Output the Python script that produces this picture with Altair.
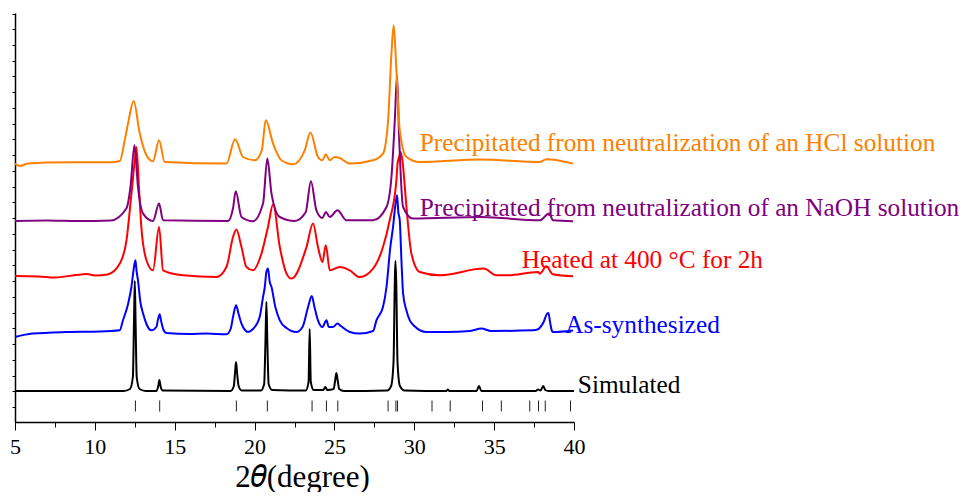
import altair as alt
import pandas as pd

# ---- data (x in degrees 2theta, y in arbitrary intensity units) ----
sim_x = [5, 11.8, 12.2, 12.38, 12.45, 12.5, 12.55, 12.62, 12.8, 13.2, 13.85, 13.97, 14.04, 14.11, 14.25,
         18.5, 18.7, 18.78, 18.84, 18.9, 19.0, 19.2, 20.4, 20.6, 20.68, 20.74, 20.8, 20.88, 21.1,
         23.2, 23.38, 23.45, 23.52, 23.7, 24.3, 24.43, 24.55, 24.95, 25.05, 25.12, 25.2, 25.3, 25.6,
         28.3, 28.55, 28.7, 28.78, 28.82, 28.87, 28.95, 29.1, 29.4, 32.0, 32.1, 32.2, 33.9, 34.05, 34.2,
         37.6, 37.75, 37.9, 38.0, 38.08, 38.2, 38.4, 40]
sim_y = [31, 31, 33, 45, 100, 141, 100, 45, 33, 31, 31, 36, 42, 36, 31.5,
         31, 36, 50, 60, 50, 36, 31.5, 31.5, 38, 80, 120, 80, 38, 32,
         31.5, 40, 93, 40, 32, 32, 35, 32, 33, 42, 49, 42, 33, 31,
         31.5, 36, 60, 140, 161, 140, 60, 36, 31.5, 31, 32.5, 31, 31, 36, 31,
         31, 32.5, 31.5, 34, 36, 32, 31, 31]

as_x = [5, 6.1, 8.2, 10.3, 11.56, 11.76, 12.08, 12.29, 12.45, 12.54, 12.62, 12.7, 12.85, 13.02, 13.23,
        13.54, 13.85, 13.96, 14.06, 14.15, 14.3, 14.48, 15.94, 17.0, 18.24, 18.5, 18.65, 18.84, 19.0,
        19.18, 19.4, 19.59, 19.9, 20.32, 20.53, 20.64, 20.74, 20.84, 20.95, 21.06, 21.3, 21.58, 22.0,
        22.62, 23.0, 23.35, 23.58, 23.75, 23.97, 24.25, 24.5, 24.65, 24.9, 25.19, 25.4, 25.96, 26.58,
        27.42, 27.63, 28.04, 28.26, 28.5, 28.67, 28.8, 28.92, 29.0, 29.09, 29.2, 29.3, 29.5, 29.72,
        30.0, 30.76, 32.0, 33.5, 34.2, 34.8, 37.44, 37.75, 37.9, 38.1, 38.3, 38.4, 38.5, 38.62, 38.69, 39.94]
as_y = [85, 88.4, 90, 90.5, 91.7, 101.7, 118, 135, 155, 161.7, 150, 141.7, 120, 108.4, 98,
        91.7, 95, 103, 107.7, 101, 92, 89, 88, 88.5, 87.7, 93, 105, 116.7, 108,
        98.4, 92, 90, 93, 105, 125, 135, 150, 153.4, 140, 135, 115, 101.7, 94,
        90, 95, 115, 126, 115, 101.7, 95, 101.7, 95, 95, 98.4, 96, 90, 88.4,
        91, 101.7, 115, 135, 175, 195, 215, 226.7, 210, 201.7, 160, 128.4, 112, 101.7,
        96, 90, 90, 91, 93.4, 91, 91.7, 92.7, 95, 100, 108, 109, 100, 91, 90, 91.5]

heat_x = [5, 6.5, 7.5, 8.8, 9.5, 10.0, 10.8, 11.56, 11.98, 12.29, 12.5, 12.6, 12.76, 12.91, 13.23,
          13.64, 14.02, 14.27, 15.52, 17.61, 18.24, 18.65, 18.86, 19.18, 19.49, 19.9, 20.43, 20.84,
          21.16, 21.58, 22.0, 22.31, 23.25, 23.66, 23.97, 24.25, 24.46, 24.71, 25.33, 25.96, 26.58,
          27.42, 28.04, 28.46, 28.88, 28.95, 29.05, 29.15, 29.25, 29.3, 29.51, 29.82, 30.34, 31.59,
          34.35, 35.14, 35.77, 37.75, 37.86, 38.27, 38.67, 39.94]
heat_y = [146, 145.5, 144.5, 147, 148, 146.5, 147.5, 158.4, 181.7, 228.4, 261.7, 275, 235, 195, 161.7,
          151.7, 195, 151.7, 146.7, 145, 155, 185, 192.4, 175, 155, 151.7, 168.4, 195,
          217.7, 175, 148.4, 143.4, 175, 198.4, 175, 160, 176.7, 151.7, 155, 151.7, 145,
          153.4, 175, 201.7, 241.7, 258, 265, 270, 262, 255, 215, 168.4, 150, 146.7,
          153.4, 146.7, 146.7, 150, 148.4, 155.7, 147.7, 145.7]

naoh_x = [5, 7, 9, 11.0, 11.98, 12.23, 12.48, 12.7, 13.02, 13.64, 14.02, 14.27, 18.34, 18.65, 18.82,
          19.18, 19.9, 20.53, 20.8, 21.06, 21.58, 22.51, 23.2, 23.53, 23.87, 24.25, 24.46, 24.71,
          25.19, 25.75, 27.42, 28.26, 28.57, 28.78, 28.92, 29.05, 29.3, 29.92, 34.2, 37.86, 38.44,
          38.69, 39.94]
naoh_y = [201, 201.5, 201, 201.5, 213.7, 235, 276.7, 235, 208.4, 201, 218.4, 201.7, 201, 213.7, 230.7,
          205, 200.7, 218.4, 263.4, 228.4, 205, 201, 209.7, 240.7, 211.7, 204, 210, 205,
          211.7, 201.7, 201.7, 215, 245, 301.7, 346.7, 285, 215, 203.4, 205, 201.7, 208.4,
          201.7, 200.7]

hcl_x = [5, 5.3, 5.8, 7, 9, 11, 11.56, 11.87, 12.08, 12.43, 12.81, 13.23, 13.64, 14.02, 14.37, 18.24,
         18.78, 19.28, 20.01, 20.45, 20.7, 21.16, 21.68, 22.41, 23.14, 23.5, 23.97, 24.25, 24.46, 24.71,
         25.02, 25.33, 25.96, 27.42, 28.04, 28.36, 28.57, 28.71, 28.88, 29.09, 29.51, 30.34, 34.1,
         37.86, 38.27, 39.94]
hcl_y = [258.4, 256, 258.4, 259.4, 259.7, 259.7, 261, 281.7, 298.7, 321, 288.7, 266.7, 260.7, 281.7, 260,
         258.4, 282.7, 265, 261.7, 271.7, 301.7, 278.4, 261.7, 257.7, 271.7, 289.4, 265, 261.7, 267.7,
         261.7, 265, 264, 258.4, 261.7, 268.4, 301.7, 368.7, 396.7, 351.7, 291.7, 265, 260, 262.4,
         260, 262.7, 258.4]

# reference (simulated) reflection positions
stick_pos = [12.54, 14.06, 18.86, 20.80, 23.60, 24.50, 25.21, 28.36, 28.85, 28.95, 31.11, 32.25,
             34.27, 35.45, 37.23, 37.78, 38.20, 39.78]

labels = ["Precipitated from neutralization of an HCl solution",
          "Precipitated from neutralization of an NaOH solution",
          "Heated at 400 \u00b0C for 2h",
          "As-synthesized",
          "Simulated"]
label_x = [30.34, 30.34, 36.73, 39.45, 40.24]
label_y = [278.7, 213.7, 161.7, 96.7, 36.7]
colors = ["#FF8000", "#800080", "#FF0000", "#0000FF", "#000000"]

FONT = "Liberation Serif"
x_ticks = [5 + 2.5 * i for i in range(15)]
y_ticks = [15 + 15.74 * k for k in range(26)]

xscale = alt.Scale(domain=[5, 40], nice=False, zero=False)
yscale = alt.Scale(domain=[0, 409], nice=False, zero=False)

x_axis = alt.Axis(values=x_ticks, labelExpr="datum.value % 5 == 0 ? datum.label : ''",
                  tickSize={"condition": {"test": "datum.value % 5 == 0", "value": 8}, "value": 5},
                  labelFont=FONT, labelFontSize=22, labelColor="black", labelPadding=6,
                  title="2\U0001D703(degree)", titleFont=FONT, titleFontSize=31, titleFontWeight="normal",
                  titleColor="black", titleBaseline="alphabetic", titleY=64, titleX=287,
                  domainColor="black", domainWidth=1.5,
                  tickColor="black", tickWidth=1, grid=False, labelFlush=False)
y_axis = alt.Axis(values=y_ticks, labels=False, title=None, tickSize=3, tickColor="black",
                  domainColor="black", domainWidth=1.5, grid=False)

X = alt.X("x:Q", scale=xscale, axis=x_axis)
Y = alt.Y("y:Q", scale=yscale, axis=y_axis)

series = [(sim_x, sim_y, colors[4]), (as_x, as_y, colors[3]), (heat_x, heat_y, colors[2]),
          (naoh_x, naoh_y, colors[1]), (hcl_x, hcl_y, colors[0])]

layers = []
for xs, ys, c in series:
    df = pd.DataFrame({"x": xs, "y": ys, "o": list(range(len(xs)))})
    layers.append(alt.Chart(df).mark_line(color=c, strokeWidth=2, interpolate="monotone").encode(
        x=X, y=Y, order="o:Q"))

sticks = pd.DataFrame({"x": stick_pos, "y": [10.5] * len(stick_pos), "y2": [21.5] * len(stick_pos)})
layers.append(alt.Chart(sticks).mark_rule(color="#222222", strokeWidth=1).encode(x=X, y=Y, y2="y2:Q"))

lab = pd.DataFrame({"t": labels, "x": label_x, "y": label_y, "c": colors})
layers.append(alt.Chart(lab).mark_text(align="left", baseline="middle", font=FONT, fontSize=25.3).encode(
    x=X, y=Y, text="t:N", color=alt.Color("c:N", scale=None)))

chart = alt.layer(*layers).properties(
    width=559, height=409,
    autosize=alt.AutoSizeParams(type="none"),
    padding={"left": 7, "top": 5, "right": 388, "bottom": 70},
).configure(background="white").configure_view(stroke="transparent", strokeWidth=0)

chart.save("out.html", embed_options={"renderer": "svg", "actions": False})
